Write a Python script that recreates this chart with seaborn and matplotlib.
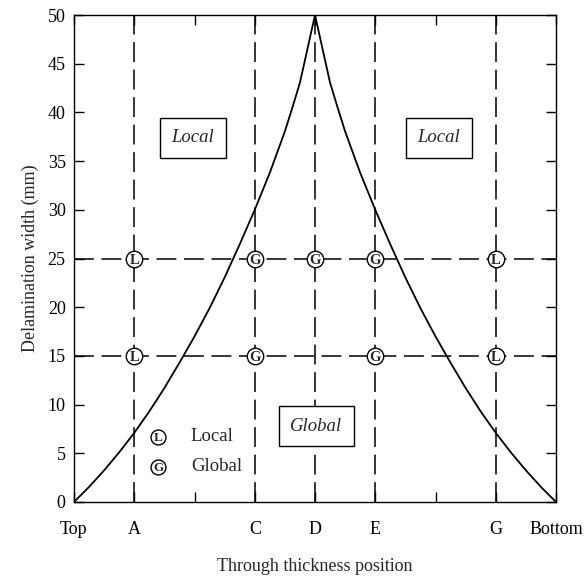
import matplotlib
matplotlib.use("Agg")
import matplotlib.pyplot as plt
import seaborn as sns
import pandas as pd

# ---- data ----
tick_positions = [0, 1, 2, 3, 4, 5, 6, 7, 8]
tick_labels = ["Top", "A", "", "C", "D", "E", "", "G", "Bottom"]

curve_left_x = [0, 0.25, 0.5, 0.75, 1.0, 1.25, 1.5, 1.75, 2.0, 2.25, 2.5, 2.75,
                3.0, 3.25, 3.5, 3.62, 3.75, 4.0]
curve_left_y = [0, 1.55, 3.25, 5.1, 7.1, 9.3, 11.7, 14.3, 17.0, 19.9, 23.05, 26.45,
                30.0, 33.8, 38.05, 40.4, 43.05, 50.0]
curve_right_x = [4.0, 4.25, 4.38, 4.5, 4.75, 5.0, 5.25, 5.5, 5.75,
                 6.0, 6.25, 6.5, 6.75, 7.0, 7.25, 7.5, 7.75, 8.0]
curve_right_y = [50.0, 43.05, 40.4, 38.05, 33.8, 30.0, 26.45, 23.05, 19.9,
                 17.0, 14.3, 11.7, 9.3, 7.1, 5.1, 3.25, 1.55, 0]

tested_positions = [1, 3, 4, 5, 7]
tested_widths = [15, 25]

local_x = [1, 7, 1, 7]
local_y = [25, 25, 15, 15]
global_x = [3, 4, 5, 3, 5]
global_y = [25, 25, 25, 15, 15]

region_text = ["Local", "Local", "Global"]
region_x = [1.97, 6.05, 4.02]
region_y = [37.4, 37.4, 7.8]

legend_labels = ["Local", "Global"]
legend_letters = ["L", "G"]
legend_y = [6.7, 3.6]

# ---- figure ----
sns.set_style("ticks")
plt.rcParams["font.family"] = ["Liberation Serif", "DejaVu Serif"]
plt.rcParams["font.size"] = 13

fig = plt.figure(figsize=(5.88, 5.78), dpi=100)
ax = fig.add_axes([74 / 588, 1 - 502 / 578, (556 - 74) / 588, (502 - 15) / 578])

left = pd.DataFrame({"x": curve_left_x, "y": curve_left_y})
right = pd.DataFrame({"x": curve_right_x, "y": curve_right_y})
sns.lineplot(data=left, x="x", y="y", ax=ax, color="black", lw=1.3, sort=False, zorder=3)
sns.lineplot(data=right, x="x", y="y", ax=ax, color="black", lw=1.3, sort=False, zorder=3)

dash = (13, 5)
for xp in tested_positions:
    ax.axvline(xp, color="black", lw=1.1, dashes=dash, zorder=2)
for yw in tested_widths:
    ax.axhline(yw, color="black", lw=1.1, dashes=dash, zorder=2)

pts = pd.DataFrame({
    "x": local_x + global_x,
    "y": local_y + global_y,
    "mode": ["L"] * len(local_x) + ["G"] * len(global_x),
})
sns.scatterplot(data=pts, x="x", y="y", ax=ax, s=140, marker="o",
                facecolor="white", edgecolor="black", linewidth=1.0, zorder=5, legend=False)
for xv, yv, m in zip(pts["x"], pts["y"], pts["mode"]):
    ax.text(xv, yv, m, ha="center", va="center_baseline", fontsize=10.5,
            fontweight="bold", zorder=6)

for t, xv, yv in zip(region_text, region_x, region_y):
    ax.text(xv, yv, t, ha="center", va="center", fontsize=13.5, style="italic", zorder=7,
            bbox=dict(boxstyle="square,pad=0.62", facecolor="white", edgecolor="black", lw=1.0))

# manual legend
for lab, let, yv in zip(legend_labels, legend_letters, legend_y):
    ax.scatter([1.40], [yv], s=115, marker="o", facecolor="white", edgecolor="black",
               linewidth=1.0, zorder=5)
    ax.text(1.40, yv, let, ha="center", va="center_baseline", fontsize=9.5,
            fontweight="bold", zorder=6)
    ax.text(1.94, yv, lab, ha="left", va="center", fontsize=13.5, zorder=6)

ax.set_xlim(0, 8)
ax.set_ylim(0, 50)
ax.set_xticks(tick_positions)
ax.set_xticklabels(tick_labels)
ax.set_yticks(range(0, 51, 5))
ax.tick_params(axis="both", direction="in", length=7, width=1, top=True, right=True,
               labelsize=13, colors="black")
ax.tick_params(axis="x", pad=14)
ax.tick_params(axis="y", pad=6)
for s in ax.spines.values():
    s.set_visible(True)
    s.set_color("black")
    s.set_linewidth(1.0)

ax.set_xlabel("Through thickness position", fontsize=13, labelpad=14)
ax.set_ylabel("Delamination width (mm)", fontsize=13, labelpad=6)

fig.savefig("out.png", dpi=100)
